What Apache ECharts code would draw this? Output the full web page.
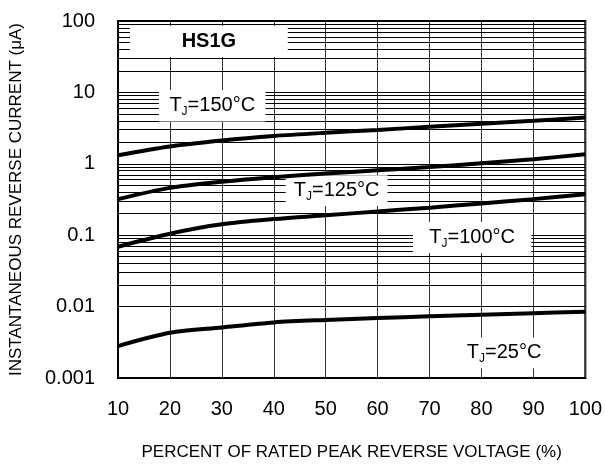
<!DOCTYPE html>
<html>
<head>
<meta charset="utf-8">
<script src="https://cdn.jsdelivr.net/npm/echarts@6/dist/echarts.min.js"></script>
<style>
html,body{margin:0;padding:0;background:#fff;}
#chart{width:605px;height:466px;}
</style>
</head>
<body>
<div id="chart"></div>
<script>
// ---- data ----
const xValues = [10, 20, 30, 40, 50, 60, 70, 80, 90, 100];
const tj150 = [1.32, 1.75, 2.12, 2.45, 2.72, 2.98, 3.3, 3.65, 4.0, 4.45];
const tj125 = [0.32, 0.46, 0.56, 0.65, 0.73, 0.81, 0.9, 1.02, 1.16, 1.36];
const tj100 = [0.069, 0.105, 0.142, 0.168, 0.19, 0.215, 0.243, 0.278, 0.32, 0.375];
const tj25 = [0.0028, 0.0043, 0.0051, 0.006, 0.0065, 0.0069, 0.0073, 0.0077, 0.0081, 0.0085];
const yTickLabels = ['0.001', '0.01', '0.1', '1', '10', '100'];
const xTickLabels = ['10', '20', '30', '40', '50', '60', '70', '80', '90', '100'];
const curveNames = ['150', '125', '100', '25'];
const partName = 'HS1G';
const xAxisName = 'PERCENT OF RATED PEAK REVERSE VOLTAGE (%)';
const yAxisName = 'INSTANTANEOUS REVERSE CURRENT (\u03BCA)';

// ---- layout (label boxes in data coordinates) ----
const boxes = [
  { text: partName, bold: true, x0: 12.3, x1: 42.7, y0: 31.3, y1: 85 },
  { text: curveNames[0], x0: 17.9, x1: 38.4, y0: 3.9, y1: 10.8 },
  { text: curveNames[1], x0: 42.3, x1: 61.9, y0: 0.256, y1: 0.69 },
  { text: curveNames[2], x0: 66.8, x1: 89.6, y0: 0.0563, y1: 0.153 },
  { text: curveNames[3], x0: 72.8, x1: 95.9, y0: 0.00137, y1: 0.0037 }
];

const FONT = '"Liberation Sans", Arial, Helvetica, sans-serif';

// minor log grid lines (2..9 within each decade)
const minorLines = [];
for (let d = -3; d < 2; d++) {
  for (let m = 2; m <= 9; m++) {
    minorLines.push({ yAxis: +(m * Math.pow(10, d)).toPrecision(3) });
  }
}

function zip(ys) { return xValues.map((x, i) => [x, ys[i]]); }

const rich = {
  a: { fontSize: 20, fontFamily: FONT, color: '#000', lineHeight: 24 },
  s: { fontSize: 12, fontFamily: FONT, color: '#000', lineHeight: 12, verticalAlign: 'bottom' },
  b: { fontSize: 20, fontFamily: FONT, fontWeight: 'bold', color: '#000', lineHeight: 24 }
};

const areaData = boxes.map(b => [
  {
    xAxis: b.x0, yAxis: b.y1,
    label: {
      formatter: b.bold ? '{b|' + b.text + '}' : '{a|T}{s|J}{a|=' + b.text + '\u00B0C}'
    }
  },
  { xAxis: b.x1, yAxis: b.y0 }
]);

const chart = echarts.init(document.getElementById('chart'), null, { renderer: 'canvas' });

const lineSeries = [tj150, tj125, tj100, tj25].map((d, i) => ({
  type: 'line',
  name: curveNames[i],
  data: zip(d),
  smooth: 0.3,
  symbol: 'none',
  z: 10,
  lineStyle: { color: '#000', width: 4 },
  silent: true
}));

chart.setOption({
  animation: false,
  backgroundColor: '#fff',
  grid: {
    left: 115, right: 17, top: 21, bottom: 88,
    show: true, borderColor: '#000', borderWidth: 2, backgroundColor: 'transparent'
  },
  xAxis: {
    type: 'value', min: 10, max: 100, interval: 10,
    name: xAxisName, nameLocation: 'middle', nameGap: 66,
    nameTextStyle: { fontSize: 17, fontFamily: FONT, color: '#000' },
    axisLine: { show: true, lineStyle: { color: '#000', width: 2 } },
    axisTick: { show: false },
    axisLabel: {
      margin: 21, fontSize: 20, fontFamily: FONT, color: '#000',
      formatter: v => xTickLabels[xValues.indexOf(Math.round(v))] || ''
    },
    splitLine: { show: true, lineStyle: { color: '#333', width: 1 } }
  },
  yAxis: {
    type: 'log', logBase: 10, min: 0.001, max: 100,
    name: yAxisName, nameLocation: 'middle', nameGap: 93, nameRotate: 90,
    nameTextStyle: { fontSize: 17, fontFamily: FONT, color: '#000' },
    axisLine: { show: true, lineStyle: { color: '#000', width: 2 } },
    axisTick: { show: false },
    axisLabel: {
      margin: 23, fontSize: 20, fontFamily: FONT, color: '#000',
      formatter: v => yTickLabels[Math.round(Math.log10(v)) + 3] || ''
    },
    splitLine: { show: true, lineStyle: { color: '#000', width: 1 } }
  },
  series: [
    {
      type: 'line', name: 'minorGrid', data: [], silent: true, z: 1,
      markLine: {
        silent: true, symbol: 'none', z: 1, animation: false,
        label: { show: false },
        lineStyle: { color: '#000', width: 1, type: 'solid' },
        emphasis: { disabled: true },
        data: minorLines
      }
    },
    {
      type: 'line', name: 'labels', data: [], silent: true, z: 2,
      markArea: {
        silent: true, z: 2, animation: false,
        itemStyle: { color: '#fff', opacity: 1, borderWidth: 0 },
        label: { show: true, position: 'inside', rich: rich },
        emphasis: { disabled: true },
        data: areaData
      }
    }
  ].concat(lineSeries)
});
</script>
</body>
</html>
